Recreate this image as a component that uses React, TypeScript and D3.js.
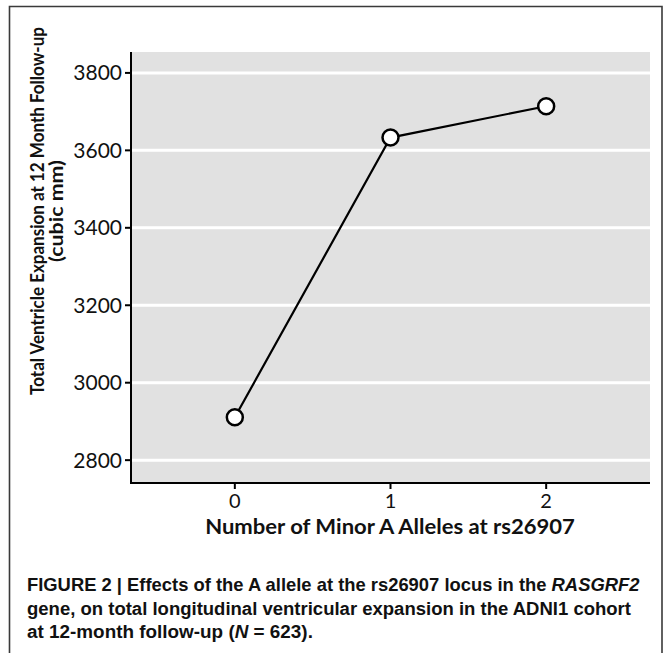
import React, { useLayoutEffect, useRef, useState } from "react";
import * as d3 from "d3";

const alleles = [0, 1, 2];
const expansion = [2911, 3633, 3714];
const yTicks = [2800, 3000, 3200, 3400, 3600, 3800];
const xTicks = [0, 1, 2];
const xTitle = "Number of Minor A Alleles at rs26907";
const yTitle1 = "Total Ventricle Expansion at 12 Month Follow-up";
const yTitle2 = "(cubic mm)";

const W = 664;
const H = 653;
const left = 131;
const right = 650;
const top = 52;
const bottom = 483;

type FitProps = {
  x: number;
  y: number;
  width: number;
  anchor?: "start" | "middle" | "end";
  children: React.ReactNode;
  [k: string]: any;
};

function FitText({ x, y, width, anchor = "start", children, ...rest }: FitProps) {
  const ref = useRef<SVGTextElement>(null);
  const [s, setS] = useState(1);
  useLayoutEffect(() => {
    if (ref.current) {
      const w = ref.current.getBBox().width;
      if (w > 0) setS(width / w);
    }
  }, [width]);
  return (
    <g transform={`translate(${x},${y}) scale(${s},1)`}>
      <text ref={ref} x={0} y={0} textAnchor={anchor} {...rest}>
        {children}
      </text>
    </g>
  );
}

export default function App() {
  const x = d3.scaleLinear().domain([-0.667, 2.667]).range([left, right]);
  const y = d3.scaleLinear().domain([2741, 3854]).range([bottom, top]);
  const line = d3
    .line<number>()
    .x((_, i) => x(alleles[i]))
    .y((d) => y(d));
  const tickFont = "Lato, 'Open Sans', 'DejaVu Sans', sans-serif";
  const capFont = "'Liberation Sans Narrow', 'Liberation Sans', Arial, sans-serif";
  return (
    <svg
      width={W}
      height={H}
      style={{ position: "absolute", left: 0, top: 0, background: "#fff" }}
    >
      {/* frame */}
      <path d={`M9.5,${H} V6.5 H662 V${H}`} fill="none" stroke="#3a3a3a" strokeWidth={1.6} />
      {/* panel */}
      <rect x={left} y={top} width={right - left} height={bottom - top} fill="#e1e1e1" />
      {yTicks.map((t) => (
        <line key={"g" + t} x1={left} x2={right} y1={y(t)} y2={y(t)} stroke="#fff" strokeWidth={3} />
      ))}
      {/* axes */}
      <line x1={left} x2={left} y1={top} y2={bottom + 1} stroke="#000" strokeWidth={2} />
      <line x1={left - 1} x2={right} y1={bottom} y2={bottom} stroke="#000" strokeWidth={2} />
      {yTicks.map((t) => (
        <g key={"yt" + t}>
          <line x1={left - 6} x2={left} y1={y(t)} y2={y(t)} stroke="#000" strokeWidth={2} />
          <text
            x={left - 9}
            y={y(t)}
            dy="0.36em"
            textAnchor="end"
            fontFamily={tickFont}
            fontSize={21}
            fill="#111"
          >
            {t}
          </text>
        </g>
      ))}
      {xTicks.map((t) => (
        <g key={"xt" + t}>
          <line x1={x(t)} x2={x(t)} y1={bottom} y2={bottom + 6} stroke="#000" strokeWidth={2} />
          <text
            x={x(t)}
            y={508}
            textAnchor="middle"
            fontFamily={tickFont}
            fontSize={20}
            fill="#111"
          >
            {t}
          </text>
        </g>
      ))}
      {/* data */}
      <path d={line(expansion) || ""} fill="none" stroke="#000" strokeWidth={2.2} />
      {expansion.map((v, i) => (
        <circle key={"p" + i} cx={x(alleles[i])} cy={y(v)} r={8} fill="#fff" stroke="#000" strokeWidth={2.5} />
      ))}
      {/* titles */}
      <FitText
        x={390}
        y={534}
        width={370}
        anchor="middle"
        fontFamily={tickFont}
        fontWeight="bold"
        fontSize={21}
        fill="#111"
      >
        {xTitle}
      </FitText>
      <g transform="translate(44,211) rotate(-90)">
        <FitText
          x={0}
          y={0}
          width={368}
          anchor="middle"
          fontFamily={tickFont}
          fontWeight="bold"
          fontSize={19.5}
          fill="#111"
        >
          {yTitle1}
        </FitText>
        <FitText
          x={0}
          y={19}
          width={102}
          anchor="middle"
          fontFamily={tickFont}
          fontWeight="bold"
          fontSize={19.5}
          fill="#111"
        >
          {yTitle2}
        </FitText>
      </g>
      {/* caption */}
      <g fontFamily={capFont} fontWeight="bold" fontSize={19} fill="#111">
        <FitText x={27} y={591} width={613}>
          FIGURE 2 | Effects of the A allele at the rs26907 locus in the{" "}
          <tspan fontStyle="italic">RASGRF2</tspan>
        </FitText>
        <FitText x={27} y={614.5} width={605}>
          gene, on total longitudinal ventricular expansion in the ADNI1 cohort
        </FitText>
        <FitText x={27} y={638} width={286}>
          at 12-month follow-up (<tspan fontStyle="italic">N</tspan> = 623).
        </FitText>
      </g>
    </svg>
  );
}
